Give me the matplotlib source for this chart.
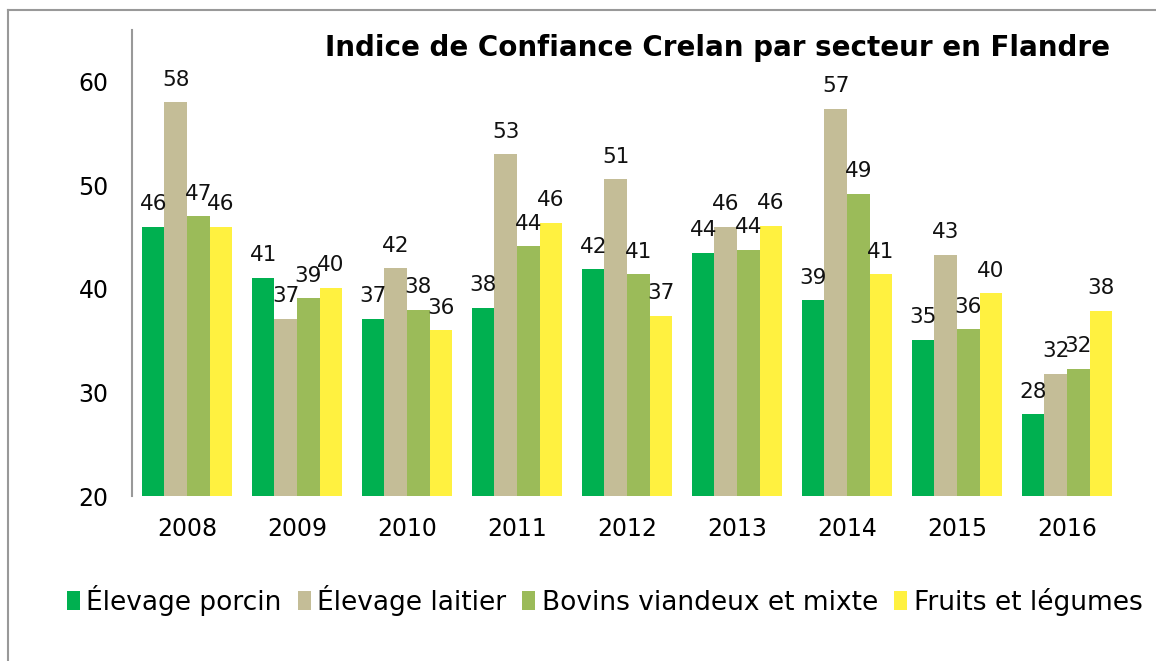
import matplotlib
matplotlib.use("Agg")
import matplotlib.pyplot as plt
from matplotlib.lines import Line2D
import numpy as np

years = ["2008", "2009", "2010", "2011", "2012", "2013", "2014", "2015", "2016"]
porcin = [46.0, 41.1, 37.1, 38.2, 41.9, 43.5, 38.9, 35.1, 27.9]
laitier = [58.0, 37.1, 42.0, 53.0, 50.6, 46.0, 57.4, 43.3, 31.8]
bovins = [47.0, 39.1, 38.0, 44.1, 41.4, 43.8, 49.2, 36.1, 32.3]
fruits = [46.0, 40.1, 36.0, 46.4, 37.4, 46.1, 41.4, 39.6, 37.9]

series_names = ["Élevage porcin", "Élevage laitier", "Bovins viandeux et mixte", "Fruits et légumes"]
series_vals = [porcin, laitier, bovins, fruits]
colors = ["#00B050", "#C4BD97", "#9BBB59", "#FFF140"]

plt.rcParams['font.family'] = ['DejaVu Sans']

fig = plt.figure(figsize=(11.56, 6.61), dpi=100)
ax = fig.add_axes([0.1142, 0.2496, 0.8564, 0.705])

x = np.arange(len(years))
w = 0.205
for i, (name, vals, c) in enumerate(zip(series_names, series_vals, colors)):
    offs = (i - 1.5) * w
    bars = ax.bar(x + offs, vals, width=w, color=c, label=name, bottom=0, zorder=2)
    for b, v in zip(bars, vals):
        ax.annotate(f"{v:.0f}", (b.get_x() + b.get_width() / 2, v),
                    xytext=(0, 9), textcoords="offset points",
                    ha="center", va="bottom", fontsize=15.5, color="#111111")

ax.set_ylim(20, 65)
ax.set_xlim(-0.5, len(years) - 0.5)
ax.set_yticks([20, 30, 40, 50, 60])
ax.set_xticks(x)
ax.set_xticklabels(years)
ax.tick_params(axis="y", length=0, pad=17, labelsize=17)
ax.tick_params(axis="x", length=0, pad=15, labelsize=17)
for s in ["top", "right", "bottom"]:
    ax.spines[s].set_visible(False)
ax.spines["left"].set_color("#999999")
ax.spines["left"].set_linewidth(1.5)

fig.text(0.960, 0.927, "Indice de Confiance Crelan par secteur en Flandre",
         ha="right", va="center", fontsize=20, fontweight="bold")

leg = fig.legend(loc="center", bbox_to_anchor=(0.523, 0.092), ncol=4, frameon=False,
                 fontsize=19, handlelength=0.5, handleheight=0.7, handletextpad=0.25,
                 columnspacing=0.6, borderaxespad=0)

# outer frame (partially visible)
fig.add_artist(Line2D([0.0069, 1.0], [0.985, 0.985], transform=fig.transFigure, color="#999999", lw=1.5))
fig.add_artist(Line2D([0.0069, 0.0069], [0.0, 0.985], transform=fig.transFigure, color="#999999", lw=1.5))

fig.savefig("out.png", dpi=100)
